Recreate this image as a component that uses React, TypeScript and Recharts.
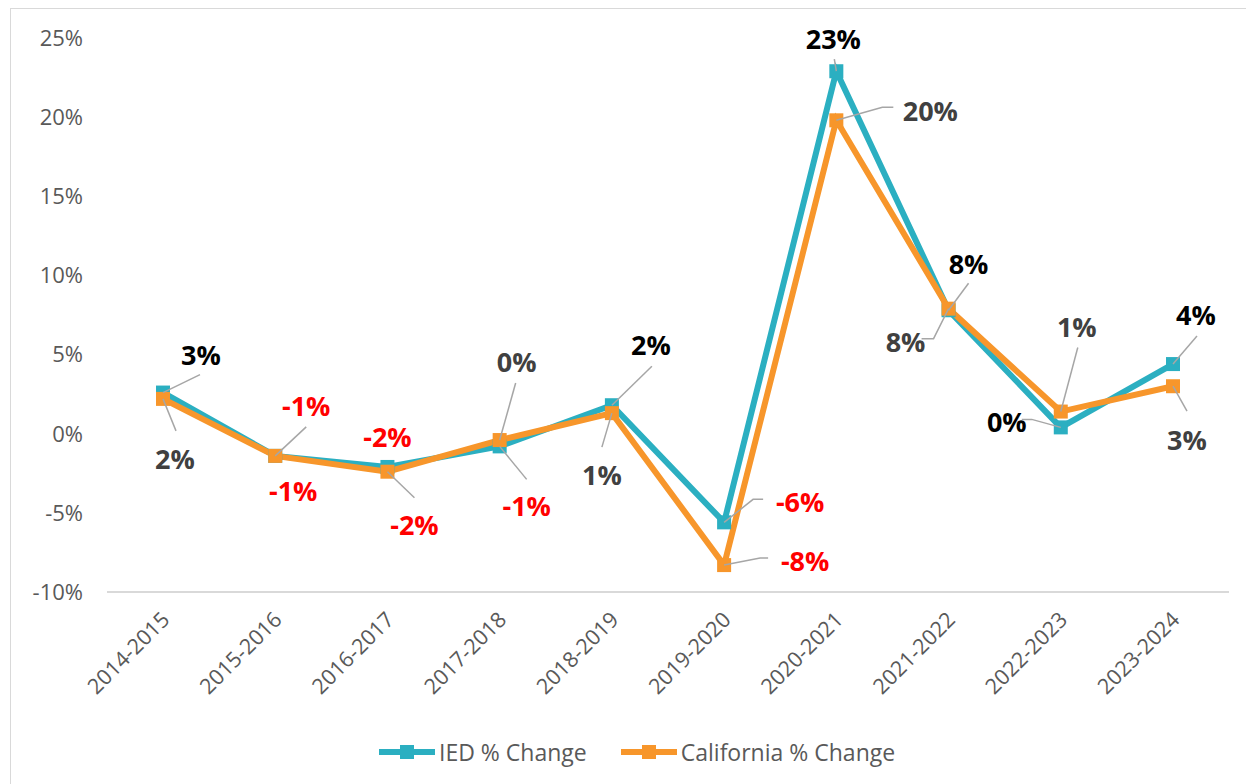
import { LineChart, Line, XAxis, YAxis, LabelList } from 'recharts';

const categories = ['2014-2015', '2015-2016', '2016-2017', '2017-2018', '2018-2019', '2019-2020', '2020-2021', '2021-2022', '2022-2023', '2023-2024'];
const iedChange = [2.6, -1.4, -2.1, -0.8, 1.8, -5.6, 22.9, 7.8, 0.4, 4.4];
const caChange = [2.2, -1.4, -2.4, -0.4, 1.3, -8.3, 19.8, 7.9, 1.4, 3.0];
const yTicks = [-10, -5, 0, 5, 10, 15, 20, 25];

const data = categories.map((year, i) => ({ year, ied: iedChange[i], ca: caChange[i] }));

// label placement per point: text centre offset, optional leader end and elbow
type LabelPos = { dx: number; dy: number; end?: [number, number]; elbow?: [number, number] };

const iedLabelPos: LabelPos[] = [
  { dx: 38, dy: -38, end: [37, -18] },
  { dx: 31, dy: -50, end: [31, -29] },
  { dx: 0, dy: -30 },
  { dx: 27, dy: 59, end: [27, 33] },
  { dx: 39, dy: -61, end: [40, -39] },
  { dx: 76, dy: -21, elbow: [29, -23], end: [39, -23] },
  { dx: -3, dy: -33, end: [-2, -12] },
  { dx: 20, dy: -47, end: [20, -27] },
  { dx: -54, dy: -6, elbow: [-29, -8], end: [-39, -8] },
  { dx: 23, dy: -50, end: [24, -28] },
];

const caLabelPos: LabelPos[] = [
  { dx: 12, dy: 60, end: [13, 32] },
  { dx: 18, dy: 35 },
  { dx: 27, dy: 53, end: [27, 26] },
  { dx: 17, dy: -79, end: [16, -57] },
  { dx: -10, dy: 61, end: [-10, 34] },
  { dx: 81, dy: -5, elbow: [36, -7], end: [44, -7] },
  { dx: 94, dy: -10, elbow: [46, -13], end: [57, -13] },
  { dx: -43, dy: 33, elbow: [-15, 30], end: [-27, 30] },
  { dx: 16, dy: -85, end: [17, -64] },
  { dx: 14, dy: 53, end: [14, 25] },
];

const TEAL = '#2BAFC1';
const ORANGE = '#F7962B';
const FONT = "'Open Sans', 'Noto Sans', sans-serif";

const squareDot = (color: string) => (props: any) => {
  const { cx, cy, index } = props;
  return <rect key={`d-${index}`} x={cx - 7} y={cy - 7} width={14} height={14} fill={color} />;
};

const pointLabel = (layout: LabelPos[], baseColor: string) => (props: any) => {
  const { x, y, value, index } = props;
  const pos = layout[index];
  if (!pos) return null;
  const r = Math.round(Number(value));
  const text = `${r === 0 ? 0 : r}%`;
  const color = r < 0 ? '#FF0000' : baseColor;
  let leader = null;
  if (pos.end) {
    const pts = [[x, y]];
    if (pos.elbow) pts.push([x + pos.elbow[0], y + pos.elbow[1]]);
    pts.push([x + pos.end[0], y + pos.end[1]]);
    leader = <polyline points={pts.map((p) => p.join(',')).join(' ')} fill="none" stroke="#A6A6A6" strokeWidth={1.5} />;
  }
  return (
    <g key={`l-${index}`}>
      {leader}
      <text x={x + pos.dx} y={y + pos.dy} textAnchor="middle" dominantBaseline="central" fontSize={27} fontWeight={700} fill={color} fontFamily={FONT}>
        {text}
      </text>
    </g>
  );
};

const XTick = (props: any) => {
  const { x, y, payload } = props;
  const tx = x + 8;
  const ty = y + 21;
  return (
    <text x={tx} y={ty} transform={`rotate(-45, ${tx}, ${ty})`} textAnchor="end" fontSize={21.5} fill="#595959" fontFamily={FONT}>
      {payload.value}
    </text>
  );
};

const LegendItem = ({ color, label }: { color: string; label: string }) => (
  <div style={{ display: 'flex', alignItems: 'center', gap: 4 }}>
    <svg width={56} height={16}>
      <line x1={1} y1={8} x2={55} y2={8} stroke={color} strokeWidth={6} strokeLinecap="round" />
      <rect x={21} y={1} width={14} height={14} fill={color} />
    </svg>
    <span>{label}</span>
  </div>
);

export default function App() {
  return (
    <div style={{ position: 'relative', width: 1246, height: 776, overflow: 'hidden', fontFamily: FONT }}>
      <div style={{ position: 'absolute', left: 2, top: 0, width: 1300, height: 820, border: '1.5px solid #D9D9D9', boxSizing: 'border-box' }} />
      <LineChart width={1246} height={776} data={data} margin={{ top: 30, right: 25, left: 39, bottom: 82 }}>
        <XAxis
          dataKey="year"
          height={110}
          padding={{ left: 56, right: 56 }}
          axisLine={{ stroke: '#D9D9D9', strokeWidth: 2 }}
          tickLine={false}
          tick={<XTick />}
          interval={0}
        />
        <YAxis
          width={60}
          domain={[-10, 25]}
          ticks={yTicks}
          axisLine={false}
          tickLine={false}
          tickSize={0}
          tickMargin={24}
          tickFormatter={(v) => `${v}%`}
          tick={{ fontSize: 22, fill: '#595959', fontFamily: FONT }}
        />
        <Line dataKey="ied" type="linear" stroke={TEAL} strokeWidth={6} dot={squareDot(TEAL)} activeDot={false} isAnimationActive={false}>
          <LabelList dataKey="ied" content={pointLabel(iedLabelPos, '#000000')} />
        </Line>
        <Line dataKey="ca" type="linear" stroke={ORANGE} strokeWidth={6} dot={squareDot(ORANGE)} activeDot={false} isAnimationActive={false}>
          <LabelList dataKey="ca" content={pointLabel(caLabelPos, '#404040')} />
        </Line>
      </LineChart>
      <div style={{ position: 'absolute', top: 728, left: 371, display: 'flex', gap: 34, fontSize: 23, color: '#595959' }}>
        <LegendItem color={TEAL} label="IED % Change" />
        <LegendItem color={ORANGE} label="California % Change" />
      </div>
    </div>
  );
}
